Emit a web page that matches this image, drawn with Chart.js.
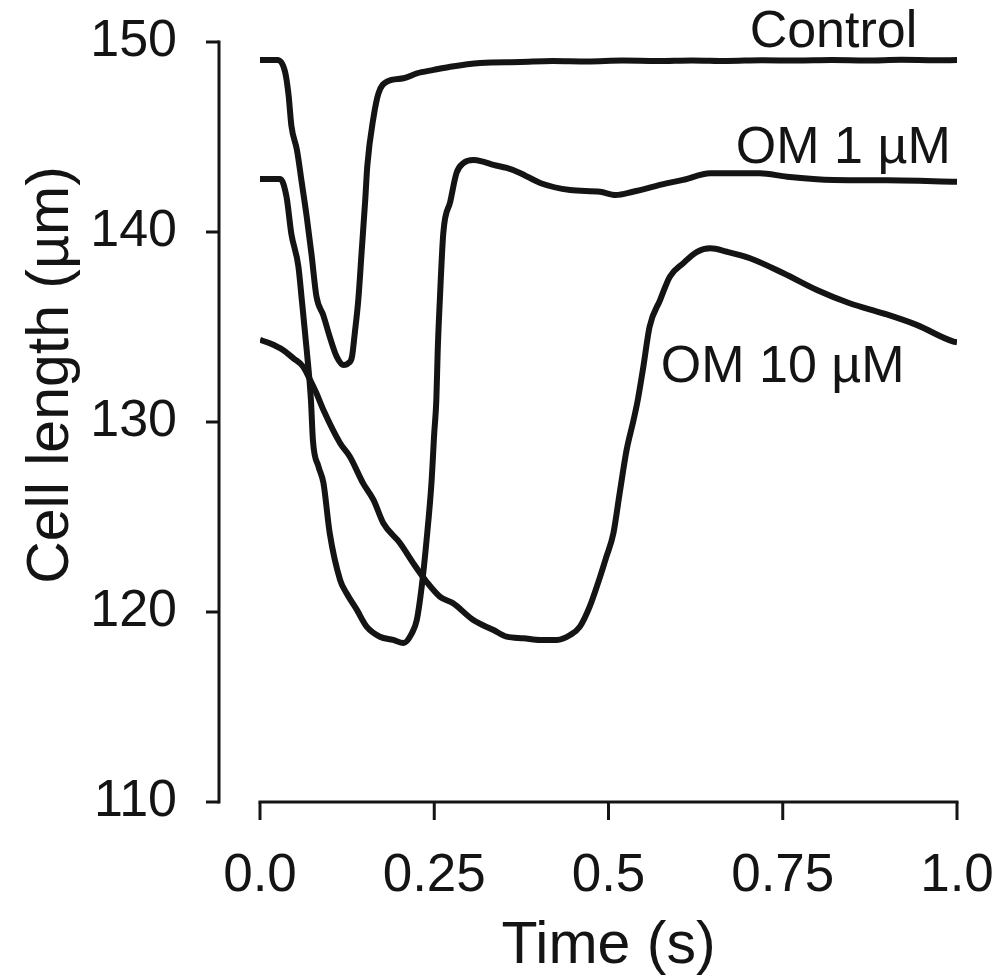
<!DOCTYPE html>
<html><head><meta charset="utf-8">
<script src="https://cdn.jsdelivr.net/npm/chart.js@4.4.1/dist/chart.umd.min.js"></script>
<style>html,body{margin:0;padding:0;background:#fff}#wrap{width:996px;height:978px}</style>
</head><body><div id="wrap"><canvas id="c" width="996" height="978"></canvas></div>
<script>
// ---- data (time in s, cell length in µm) ----
const controlTime = [0, 0.025, 0.036, 0.041, 0.045, 0.053, 0.060, 0.067, 0.074, 0.081, 0.091, 0.100, 0.110, 0.120, 0.127, 0.132, 0.136, 0.141, 0.146, 0.151, 0.154, 0.163, 0.170, 0.182, 0.206, 0.225, 0.249, 0.273, 0.316, 0.373, 0.42, 0.47, 0.52, 0.57, 0.62, 0.67, 0.72, 0.77, 0.82, 0.87, 0.92, 0.97, 1.0];
const controlLength = [149.05, 149.05, 148.42, 147.2, 145.6, 144.32, 142.58, 140.81, 138.79, 136.6, 135.6, 134.49, 133.44, 133.0, 133.1, 133.44, 134.68, 136.42, 139.05, 141.7, 143.5, 146.07, 147.3, 147.91, 148.09, 148.35, 148.53, 148.7, 148.9, 148.95, 149.0, 148.97, 149.02, 149.0, 149.03, 149.0, 149.04, 149.02, 149.05, 149.03, 149.06, 149.04, 149.05];

const om1Time = [0, 0.029, 0.038, 0.045, 0.055, 0.060, 0.067, 0.073, 0.076, 0.084, 0.091, 0.100, 0.115, 0.124, 0.139, 0.153, 0.172, 0.191, 0.206, 0.218, 0.225, 0.232, 0.239, 0.246, 0.250, 0.253, 0.255, 0.258, 0.263, 0.273, 0.282, 0.292, 0.306, 0.320, 0.335, 0.354, 0.373, 0.402, 0.445, 0.488, 0.51, 0.535, 0.583, 0.607, 0.646, 0.717, 0.756, 0.823, 0.9, 1.0];
const om1Length = [142.79, 142.79, 141.86, 139.9, 138.2, 136.42, 133.79, 131.2, 129.0, 127.65, 126.8, 124.16, 121.68, 121.0, 120.11, 119.23, 118.7, 118.53, 118.37, 118.89, 119.58, 121.33, 123.79, 126.79, 129.42, 131.16, 133.79, 136.42, 139.95, 141.6, 143.11, 143.63, 143.79, 143.7, 143.53, 143.37, 143.11, 142.58, 142.21, 142.12, 141.95, 142.12, 142.56, 142.74, 143.09, 143.09, 142.91, 142.74, 142.72, 142.65];

const om10Time = [0, 0.014, 0.033, 0.048, 0.062, 0.072, 0.081, 0.091, 0.115, 0.129, 0.148, 0.163, 0.177, 0.201, 0.220, 0.239, 0.258, 0.277, 0.306, 0.335, 0.354, 0.378, 0.402, 0.426, 0.445, 0.459, 0.473, 0.488, 0.497, 0.507, 0.516, 0.526, 0.536, 0.542, 0.550, 0.559, 0.574, 0.588, 0.607, 0.627, 0.646, 0.670, 0.703, 0.751, 0.799, 0.846, 0.894, 0.942, 0.995, 1.0];
const om10Length = [134.32, 134.14, 133.79, 133.35, 132.91, 132.21, 131.51, 130.63, 128.88, 128.17, 126.77, 125.89, 124.67, 123.62, 122.56, 121.59, 120.81, 120.46, 119.58, 119.05, 118.7, 118.62, 118.53, 118.53, 118.79, 119.23, 120.28, 121.86, 122.91, 124.14, 126.25, 128.53, 130.11, 131.16, 132.91, 135.02, 136.42, 137.65, 138.35, 138.96, 139.14, 138.96, 138.62, 137.83, 136.95, 136.25, 135.72, 135.11, 134.23, 134.2];

const seriesNames = ['Control', 'OM 1 µM', 'OM 10 µM'];
const xTickValues = [0, 0.25, 0.5, 0.75, 1.0];
const xTickLabels = ['0.0', '0.25', '0.5', '0.75', '1.0'];
const yTickValues = [110, 120, 130, 140, 150];
const xTitle = 'Time (s)';
const yTitle = 'Cell length (µm)';

// ---- build ----
const FONT = '"Liberation Sans", Arial, Helvetica, sans-serif';
const INK = '#141414';
const toPts = (t, v) => t.map((x, i) => ({x, y: v[i]}));

const axesPlugin = {
  id: 'customAxes',
  afterDraw(chart) {
    const {ctx, chartArea, scales: {x, y}} = chart;
    ctx.save();
    ctx.strokeStyle = INK;
    ctx.lineWidth = 3;
    // y axis (offset to the left of the plot)
    const ax = chartArea.left - 41;
    const yTop = y.getPixelForValue(yTickValues[yTickValues.length - 1]);
    const yBot = y.getPixelForValue(yTickValues[0]);
    ctx.beginPath(); ctx.moveTo(ax, yTop - 1.5); ctx.lineTo(ax, yBot + 1.5); ctx.stroke();
    yTickValues.forEach(v => {
      const p = y.getPixelForValue(v);
      ctx.beginPath(); ctx.moveTo(ax - 13, p); ctx.lineTo(ax, p); ctx.stroke();
    });
    // x axis
    const x0 = x.getPixelForValue(xTickValues[0]);
    const x1 = x.getPixelForValue(xTickValues[xTickValues.length - 1]);
    ctx.beginPath(); ctx.moveTo(x0 - 1.5, yBot); ctx.lineTo(x1 + 1.5, yBot); ctx.stroke();
    xTickValues.forEach(v => {
      const p = x.getPixelForValue(v);
      ctx.beginPath(); ctx.moveTo(p, yBot); ctx.lineTo(p, yBot + 18); ctx.stroke();
    });
    // axis titles
    ctx.fillStyle = INK;
    ctx.font = '59px ' + FONT;
    ctx.textAlign = 'center';
    ctx.textBaseline = 'alphabetic';
    ctx.fillText(xTitle, (x0 + x1) / 2, 963);
    ctx.save();
    ctx.translate(68, 375);
    ctx.rotate(-Math.PI / 2);
    ctx.fillText(yTitle, 0, 0);
    ctx.restore();
    // series labels
    ctx.font = '52px ' + FONT;
    ctx.textAlign = 'right';
    ctx.fillText(seriesNames[0], x.getPixelForValue(0.943), y.getPixelForValue(149.74));
    ctx.fillText(seriesNames[1], x.getPixelForValue(0.991), y.getPixelForValue(143.63));
    ctx.textAlign = 'left';
    ctx.fillText(seriesNames[2], x.getPixelForValue(0.575), y.getPixelForValue(132.11));
    ctx.restore();
  }
};

const lineStyle = {borderColor: INK, borderWidth: 6, pointRadius: 0, fill: false, cubicInterpolationMode: 'monotone', borderJoinStyle: 'round', borderCapStyle: 'butt'};

new Chart(document.getElementById('c'), {
  type: 'line',
  data: {
    datasets: [
      Object.assign({label: seriesNames[0], data: toPts(controlTime, controlLength)}, lineStyle),
      Object.assign({label: seriesNames[1], data: toPts(om1Time, om1Length)}, lineStyle),
      Object.assign({label: seriesNames[2], data: toPts(om10Time, om10Length)}, lineStyle)
    ]
  },
  options: {
    responsive: false,
    animation: false,
    devicePixelRatio: 1,
    layout: {padding: {top: 42, right: 39, left: 0, bottom: 0}},
    plugins: {legend: {display: false}, tooltip: {enabled: false}},
    scales: {
      x: {
        type: 'linear', min: 0, max: 1,
        grid: {display: false}, border: {display: false},
        afterBuildTicks: s => { s.ticks = xTickValues.map(v => ({value: v})); },
        afterFit: s => { s.height = 176; s.paddingLeft = 0; s.paddingRight = 0; },
        ticks: {
          autoSkip: false, maxRotation: 0, padding: 35, color: INK,
          font: {family: FONT, size: 53},
          callback: (v) => xTickLabels[xTickValues.indexOf(v)]
        }
      },
      y: {
        type: 'linear', min: 110, max: 150,
        grid: {display: false}, border: {display: false},
        afterBuildTicks: s => { s.ticks = yTickValues.map(v => ({value: v})); },
        afterFit: s => { s.width = 260; s.paddingTop = 0; s.paddingBottom = 0; },
        ticks: {
          padding: 75, color: INK,
          font: {family: FONT, size: 52},
          callback: (v) => String(v)
        }
      }
    }
  },
  plugins: [axesPlugin]
});
</script>
</body></html>
